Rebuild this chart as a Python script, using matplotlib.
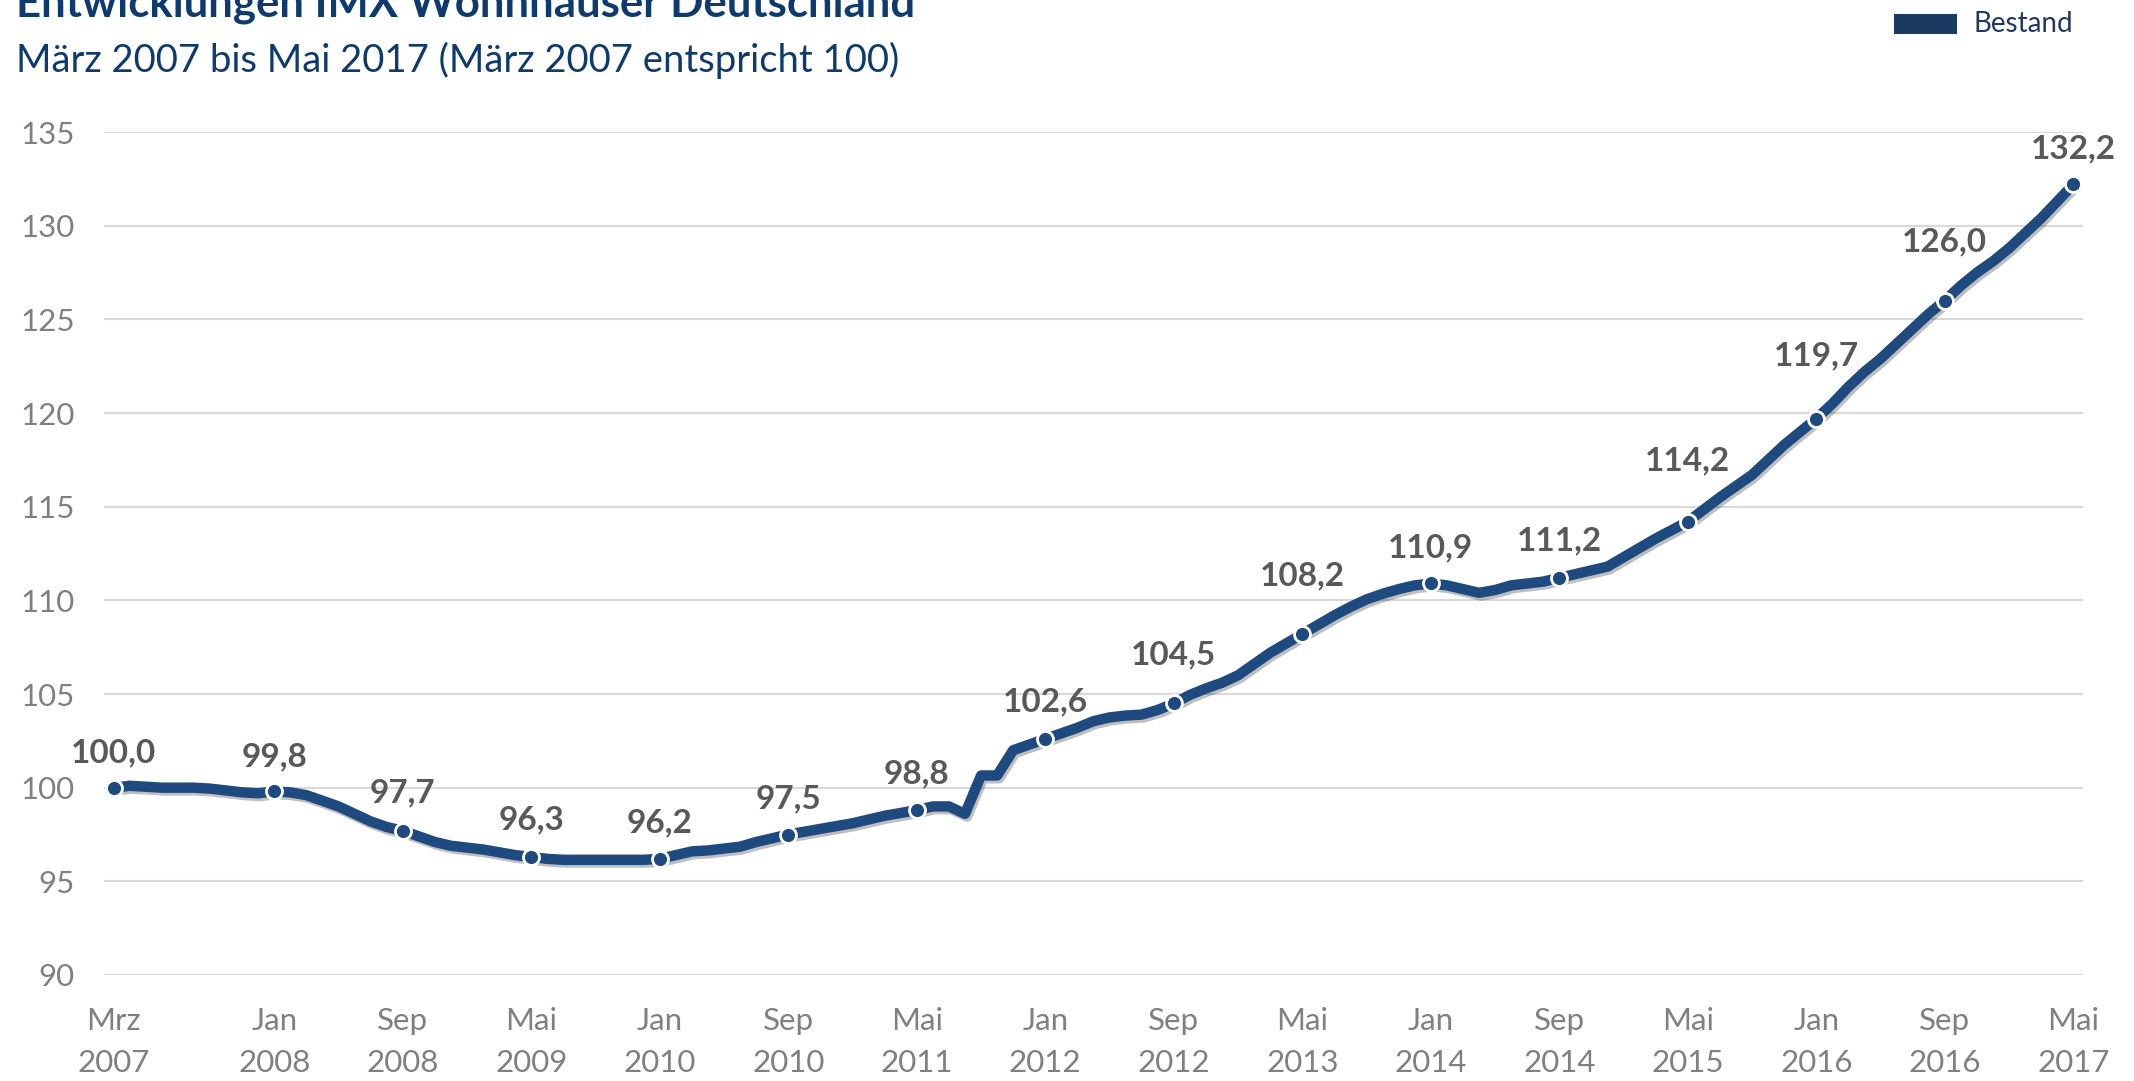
import matplotlib
matplotlib.use("Agg")
import matplotlib.pyplot as plt
import matplotlib.patheffects as pe
from matplotlib.patches import Rectangle

# ---------------- data ----------------
title = "Entwicklungen IMX Wohnhäuser Deutschland"
subtitle = "März 2007 bis Mai 2017 (März 2007 entspricht 100)"
series_name = "Bestand"

# monthly index values, März 2007 .. Mai 2017 (123 months)
values = [
    100.0, 100.1, 100.05, 100.0, 100.0, 100.0, 99.95, 99.85, 99.75, 99.7,
    99.8, 99.75, 99.6, 99.3, 99.0, 98.6, 98.2, 97.9, 97.7, 97.4,
    97.1, 96.9, 96.8, 96.7, 96.55, 96.4, 96.3, 96.2, 96.15, 96.15,
    96.15, 96.15, 96.15, 96.15, 96.2, 96.4, 96.6, 96.65, 96.75, 96.85,
    97.1, 97.3, 97.5, 97.65, 97.8, 97.95, 98.1, 98.3, 98.5, 98.65,
    98.8, 99.0, 99.0, 98.6, 100.65, 100.65, 102.0, 102.3, 102.6, 102.9,
    103.2, 103.55, 103.75, 103.85, 103.9, 104.15, 104.5, 104.95, 105.3, 105.6,
    106.0, 106.6, 107.2, 107.7, 108.2, 108.7, 109.2, 109.65, 110.05, 110.35,
    110.6, 110.8, 110.9, 110.8, 110.6, 110.4, 110.55, 110.8, 110.9, 111.0,
    111.2, 111.4, 111.6, 111.8, 112.3, 112.8, 113.3, 113.75, 114.2, 114.85,
    115.5, 116.1, 116.7, 117.5, 118.3, 119.0, 119.7, 120.5, 121.4, 122.2,
    122.9, 123.7, 124.5, 125.3, 126.0, 126.8, 127.5, 128.1, 128.8, 129.6,
    130.4, 131.3, 132.2,
]

# labelled points (month index from März 2007) and their printed values
label_idx = [0, 10, 18, 26, 34, 42, 50, 58, 66, 74, 82, 90, 98, 106, 114, 122]
label_vals = [100.0, 99.8, 97.7, 96.3, 96.2, 97.5, 98.8, 102.6, 104.5,
              108.2, 110.9, 111.2, 114.2, 119.7, 126.0, 132.2]
tick_labels = ["Mrz\n2007", "Jan\n2008", "Sep\n2008", "Mai\n2009", "Jan\n2010",
               "Sep\n2010", "Mai\n2011", "Jan\n2012", "Sep\n2012", "Mai\n2013",
               "Jan\n2014", "Sep\n2014", "Mai\n2015", "Jan\n2016", "Sep\n2016",
               "Mai\n2017"]
y_ticks = [90, 95, 100, 105, 110, 115, 120, 125, 130, 135]

# label vertical offsets above the markers (points)
label_offsets = [25, 25, 27, 27, 26, 26, 26, 27, 35, 42, 26, 27, 44, 45, 42, 26]

# ---------------- style ----------------
FONT = ["Lato", "DejaVu Sans"]
plt.rcParams["font.family"] = FONT
LINE = "#1F4A80"
NAVY = "#0E3A6E"
GRAY = "#808080"
LABEL = "#595959"

W, H = 2134, 1081
fig = plt.figure(figsize=(W / 100, H / 100), dpi=100)
ax = fig.add_axes([104 / W, 1 - 975 / H, (2083 - 104) / W, (975 - 132) / H])

x = list(range(len(values)))
ax.plot(x, values, color=LINE, lw=7.5, solid_joinstyle="round", solid_capstyle="round",
        zorder=3,
        path_effects=[pe.SimpleLineShadow(offset=(1.5, -2), alpha=0.25, shadow_color="black"),
                      pe.Normal()])
ax.plot(label_idx, [values[i] for i in label_idx], ls="none", marker="o",
        markersize=11.5, markerfacecolor=LINE, markeredgecolor="white",
        markeredgewidth=2, zorder=4)

for i, v, off in zip(label_idx, label_vals, label_offsets):
    ax.annotate(f"{v:.1f}".replace(".", ","), (i, values[i]), xytext=(0, off),
                textcoords="offset points", ha="center", va="center",
                fontsize=24, fontweight="bold", color=LABEL, zorder=5)

ax.set_xlim(-0.6, len(values) - 0.4)
ax.set_ylim(90, 135)
ax.set_yticks(y_ticks)
ax.set_yticklabels([str(t) for t in y_ticks])
ax.set_xticks(label_idx)
ax.set_xticklabels(tick_labels, linespacing=1.6)
ax.grid(axis="y", color="#D9D9D9", lw=1.5, zorder=0)
ax.set_axisbelow(True)
for s in ax.spines.values():
    s.set_visible(False)
ax.tick_params(axis="both", length=0, labelsize=22.5, labelcolor=GRAY)
ax.tick_params(axis="y", pad=21)
ax.tick_params(axis="x", pad=23)

# title / subtitle (title cut at top as in reference)
fig.text(16 / W, 1 - 17 / H, title, fontsize=31.5, fontweight="bold", color=NAVY,
         ha="left", va="baseline")
fig.text(16 / W, 1 - 72 / H, subtitle, fontsize=27.5, color=NAVY,
         ha="left", va="baseline")

# legend
fig.patches.append(Rectangle((1894 / W, 1 - 34 / H), 63 / W, 20 / H,
                             transform=fig.transFigure, facecolor="#1B3A60",
                             edgecolor="none"))
fig.text(1973 / W, 1 - 24 / H, series_name, fontsize=20, color="#1F3864",
         ha="left", va="center")

fig.savefig("out.png", dpi=100)
